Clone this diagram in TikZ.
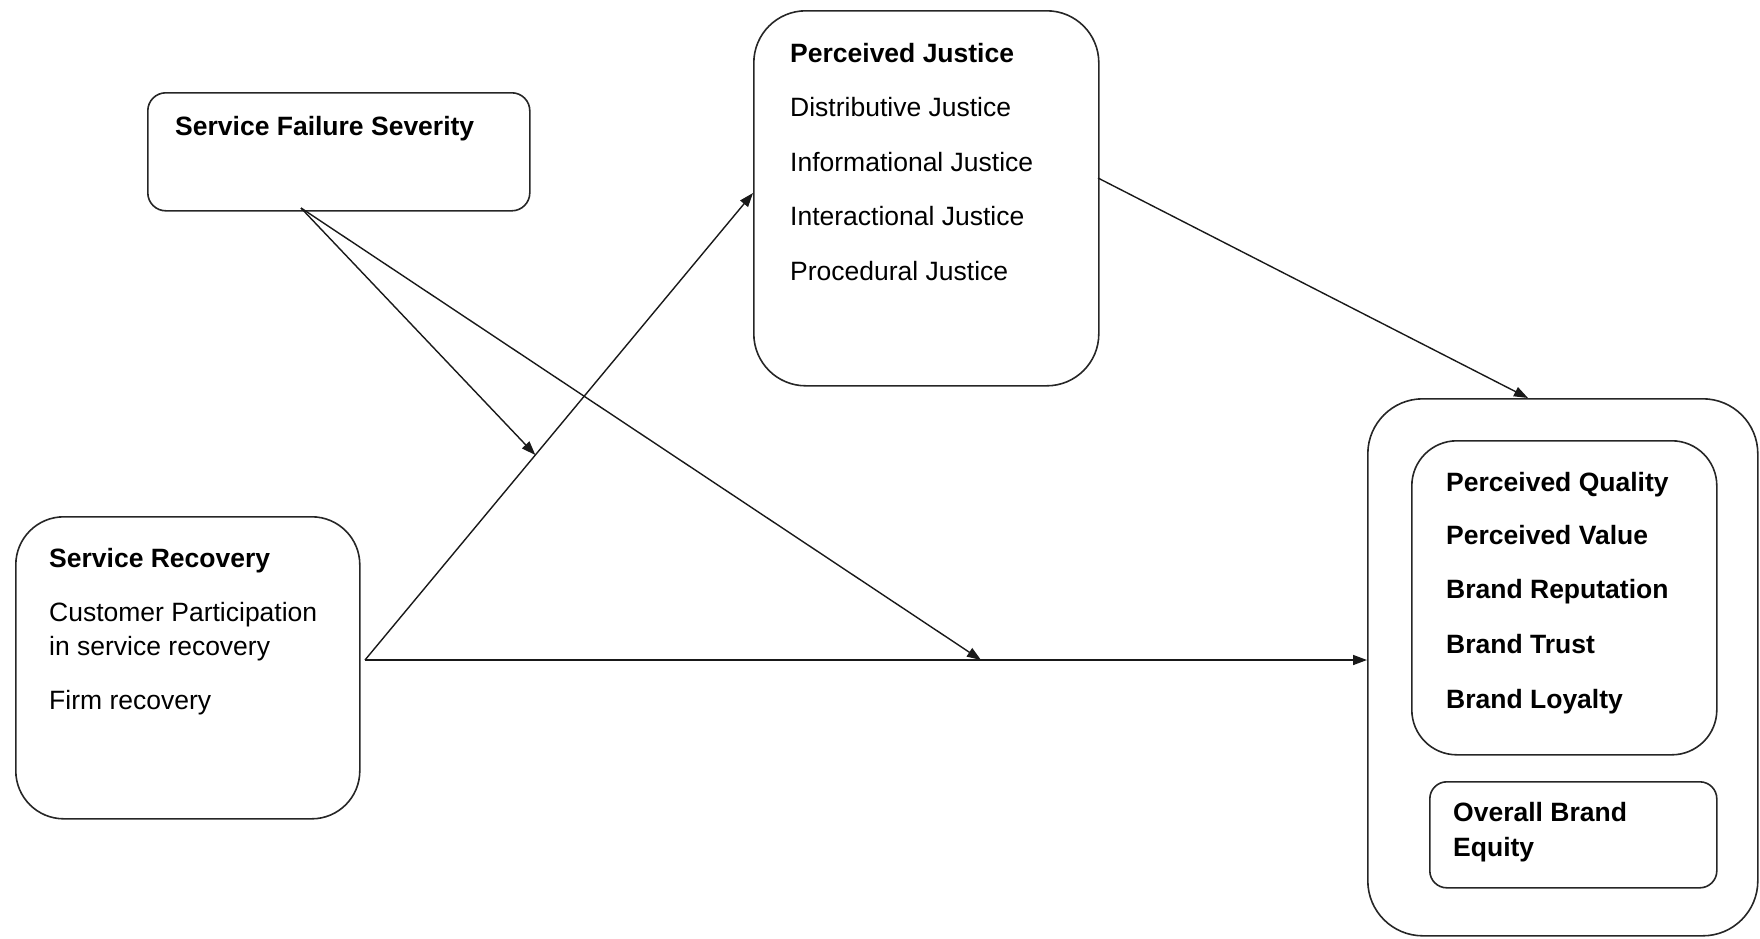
\documentclass[tikz,border=0pt]{standalone}
\usepackage{fontspec}
\setmainfont{Liberation Sans}
\usetikzlibrary{arrows.meta,calc}
\begin{document}
\begin{tikzpicture}[x=1pt,y=-1pt,
  box/.style={draw=black!85, line width=1.6pt, rounded corners=#1, inner sep=0pt, anchor=north west},
  box/.default=18pt,
  lbl/.style={anchor=base west, inner sep=0pt, font=\fontsize{26.5}{32}\selectfont},
  blbl/.style={anchor=base west, inner sep=0pt, font=\fontsize{26.5}{32}\selectfont\bfseries},
  arr/.style={line width=1.4pt, draw=black!90, -{Triangle[length=14pt,width=10pt]}}]
\useasboundingbox (0,0) rectangle (1760,938);

% boxes
\node[box=18pt, minimum width=382pt, minimum height=118pt] (sfs) at (147,92) {};
\node[box=52pt, minimum width=345pt, minimum height=375pt] (pj) at (753,10) {};
\node[box=48pt, minimum width=344pt, minimum height=302pt] (sr) at (15,516) {};
\node[box=55pt, minimum width=390pt, minimum height=537pt] (out) at (1367,398) {};
\node[box=45pt, minimum width=305pt, minimum height=314pt] (in1) at (1411,440) {};
\node[box=17pt, minimum width=287pt, minimum height=106pt] (in2) at (1429,781) {};

% texts
\node[blbl] (sfst) at (175,135) {Service Failure Severity};

\node[blbl] (pjt) at (790,62) {Perceived Justice};
\node[lbl] (pj1) at (790,116) {Distributive Justice};
\node[lbl] (pj2) at (790,171) {Informational Justice};
\node[lbl] (pj3) at (790,225) {Interactional Justice};
\node[lbl] (pj4) at (790,280) {Procedural Justice};

\node[blbl] (srt) at (49,567) {Service Recovery};
\node[lbl] (sr1) at (49,621) {Customer Participation};
\node[lbl] (sr2) at (49,655) {in service recovery};
\node[lbl] (sr3) at (49,709) {Firm recovery};

\node[blbl] (b1) at (1446,491) {Perceived Quality};
\node[blbl] (b2) at (1446,544) {Perceived Value};
\node[blbl] (b3) at (1446,598) {Brand Reputation};
\node[blbl] (b4) at (1446,653) {Brand Trust};
\node[blbl] (b5) at (1446,708) {Brand Loyalty};

\node[blbl] (o1) at (1453,821) {Overall Brand};
\node[blbl] (o2) at (1453,856) {Equity};

% connector end points
\coordinate (srout) at (365,660);
\coordinate (pjin) at (753,193);
\coordinate (outin) at (1367,660);
\coordinate (sfsout) at (301,208);
\coordinate (pjout) at (1098,178);
\coordinate (outtop) at (1528,398);
\coordinate (m1) at ($(srout)!0.439!(pjin)$);
\coordinate (m2) at (981,660);

% connectors
\draw[arr] (srout) -- (pjin);
\draw[arr] (srout) -- (outin);
\draw[arr] (sfsout) -- (m1);
\draw[arr] (sfsout) -- (m2);
\draw[arr] (pjout) -- (outtop);
\end{tikzpicture}
\end{document}
